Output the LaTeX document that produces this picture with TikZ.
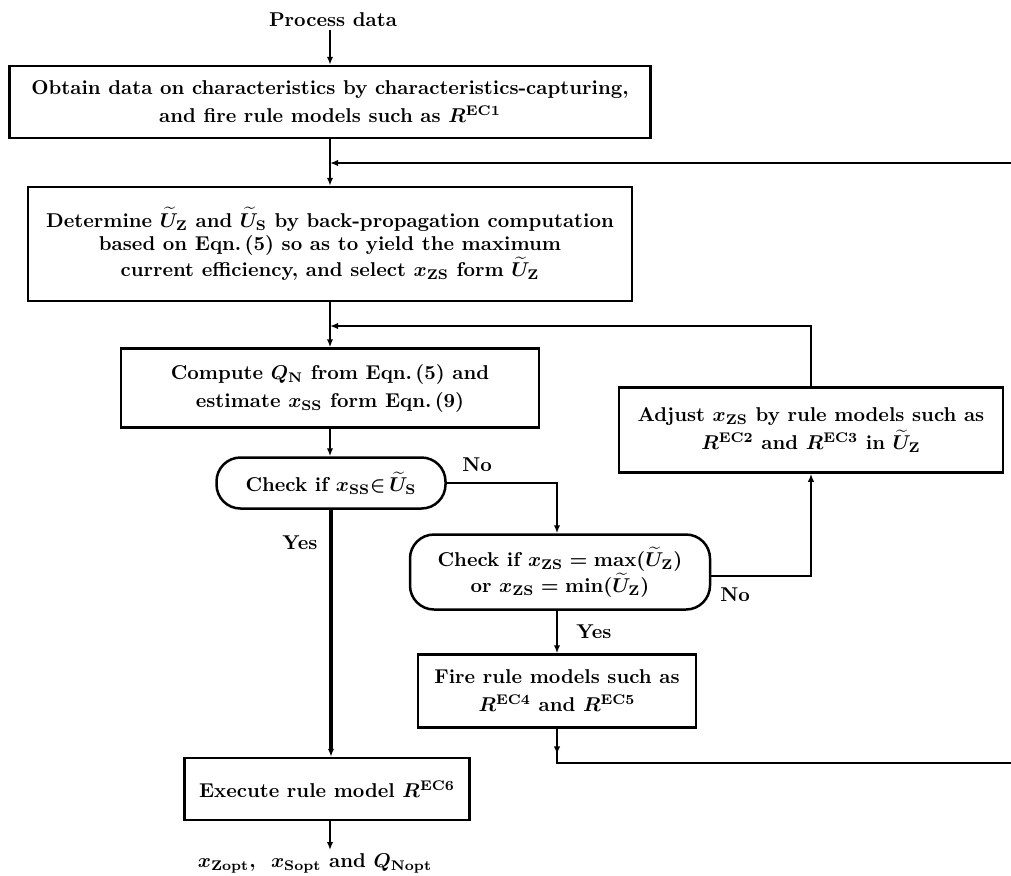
\documentclass[tikz,border=0pt]{standalone}
\usetikzlibrary{arrows.meta,calc}
\begin{document}
\begin{tikzpicture}[x=0.5pt,y=-0.5pt,
  every node/.style={inner sep=0pt, align=center, font=\fontsize{10}{14}\selectfont\bfseries\boldmath},
  procbox/.style={draw, line width=1.25pt},
  decbox/.style={draw, line width=1.25pt, rounded corners=12pt},
  conn/.style={line width=1.3pt, -{Latex[length=4pt,width=3.2pt]}},
  line/.style={line width=1.3pt},
  lbl/.style={font=\fontsize{10}{12}\selectfont\bfseries}]
\clip (0,0) rectangle (1011,875);
\fill[white] (0,0) rectangle (1011,875);

\node (start) at (333,20) {Process data};
\node[procbox, minimum width=320.5pt, minimum height=36pt] (b1) at (330,102)
  {Obtain data on characteristics by characteristics-capturing,\\ and fire rule models such as $R^{\mathbf{EC1}}$};
\node[procbox, minimum width=302pt, minimum height=57pt,
  font=\fontsize{10}{11.5}\selectfont\bfseries\boldmath] (b2) at (330,244)
  {Determine $\widetilde{U}_{\mathbf{Z}}$ and $\widetilde{U}_{\mathbf{S}}$ by back-propagation computation\\
   based on Eqn.\,(5) so as to yield the maximum\\
   current efficiency, and select $x_{\mathbf{ZS}}$ form $\widetilde{U}_{\mathbf{Z}}$};
\node[procbox, minimum width=209pt, minimum height=39.5pt] (b3) at (330,388)
  {Compute $Q_{\mathbf{N}}$ from Eqn.\,(5) and\\ estimate $x_{\mathbf{SS}}$ form Eqn.\,(9)};
\node[decbox, minimum width=114.5pt, minimum height=25.5pt] (d1) at (331,483)
  {Check if $x_{\mathbf{SS}}{\in}\,\widetilde{U}_{\mathbf{S}}$};
\node[decbox, minimum width=150pt, minimum height=37.5pt,
  font=\fontsize{10}{13}\selectfont\bfseries\boldmath] (d2) at (560,572)
  {Check if $x_{\mathbf{ZS}}=\max(\widetilde{U}_{\mathbf{Z}})$\\ or $x_{\mathbf{ZS}}=\min(\widetilde{U}_{\mathbf{Z}})$};
\node[procbox, minimum width=192pt, minimum height=42.5pt] (adj) at (811,430)
  {Adjust $x_{\mathbf{ZS}}$ by rule models such as\\ $R^{\mathbf{EC2}}$ and $R^{\mathbf{EC3}}$ in $\widetilde{U}_{\mathbf{Z}}$};
\node[procbox, minimum width=139pt, minimum height=36.5pt] (fire) at (557,691)
  {Fire rule models such as\\ $R^{\mathbf{EC4}}$ and $R^{\mathbf{EC5}}$};
\node[procbox, minimum width=142.5pt, minimum height=31pt] (exe) at (327,789)
  {Execute rule model $R^{\mathbf{EC6}}$};
\node (out) at (315,863) {$x_{\mathbf{Zopt}}$,\ \ $x_{\mathbf{Sopt}}$ and $Q_{\mathbf{Nopt}}$};

\coordinate (s0) at (330,30);
\coordinate (j1) at (330,163);
\coordinate (j2) at (330,326);
\coordinate (c1) at (557,483);
\coordinate (c2) at (811,576);
\coordinate (c3) at (811,326);
\coordinate (c4) at (557,763);
\coordinate (c5) at (1014,763);
\coordinate (c6) at (1014,163);
\coordinate (o1) at (330,850);

\draw[conn] (s0) -- (b1.north);
\draw[conn] (b1.south) -- (b2.north);
\draw[conn] (b2.south) -- (b3.north);
\draw[conn] (b3.south) -- (b3.south |- d1.north);
\draw[conn] (d1.east) -- (c1) -- (c1 |- d2.north);
\draw[conn, line width=1.6pt] (d1.south) -- (d1.south |- exe.north);
\draw[conn] (d2.east |- c2) -- (c2) -- (adj.south);
\draw[conn] (c1 |- d2.south) -- (c1 |- fire.north);
\draw[conn] (adj.north) -- (c3) -- (j2);
\draw[line] (fire.south) -- (c4) -- (c5) -- (c6);
\draw[conn] (c6) -- (j1);
\draw[conn] (fire.south) -- ($(fire.south)!0.75!(c4)$);
\draw[conn] (exe.south -| o1) -- (o1);

\node[lbl] (no1) at (477,465) {No};
\node[lbl] (yes1) at (300,543) {Yes};
\node[lbl] (no2) at (735,595) {No};
\node[lbl] (yes2) at (594,632) {Yes};
\end{tikzpicture}
\end{document}
